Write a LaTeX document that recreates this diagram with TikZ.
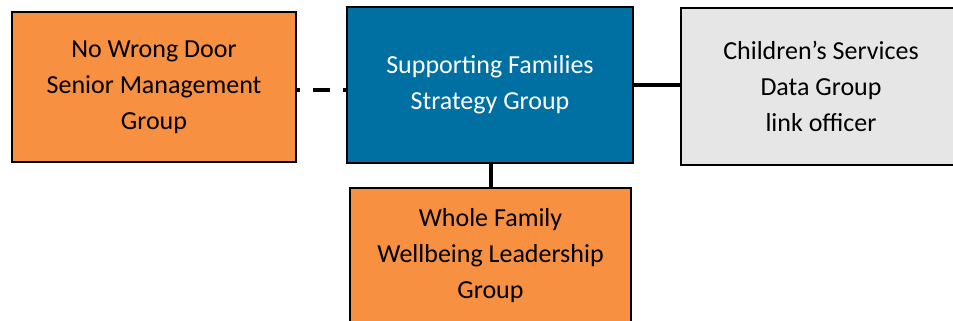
\documentclass[tikz,border=0pt]{standalone}
\usepackage{fontspec}
\setmainfont{Carlito}
\usepackage{tikz}

\definecolor{sforange}{RGB}{247,145,65}
\definecolor{sfblue}{RGB}{0,112,163}
\definecolor{sfgrey}{RGB}{230,230,230}

\tikzset{
  groupbox/.style={draw=black, line width=1.75pt, align=center, inner sep=0pt,
    font=\fontsize{19.5}{27}\selectfont},
  link/.style={line width=2.8pt, black}
}

\begin{document}
\begin{tikzpicture}[x=0.75pt,y=0.75pt,yscale=-1,xscale=1]
        \useasboundingbox (0,0) rectangle (953,321);
        \clip (0,0) rectangle (953,321);

        % Boxes
        \node (nwd) [groupbox, fill=sforange, minimum width=213pt, minimum height=112.5pt] at (154,87) {No Wrong Door\\Senior Management\\Group};
        \node (sfsg) [groupbox, fill=sfblue, text=white, minimum width=214.5pt, minimum height=117pt] at (490,85) {Supporting Families\\Strategy Group};
        \node (csdg) [groupbox, fill=sfgrey, minimum width=217.5pt, minimum height=117.75pt, text width=0pt] at (826,86.5) {};
        \node (csdgtext) [align=center, font=\fontsize{19.5}{27}\selectfont] at (821,86) {Children’s Services\\Data Group\\link officer};
        \node (wfwl) [groupbox, fill=sforange, minimum width=210.75pt, minimum height=102pt] at (490.5,256) {Whole Family\\Wellbeing Leadership\\Group};

        % Links
        \draw [link, dash pattern=on 12.75pt off 9.75pt, dash phase=10.5pt] (nwd.east |- 0,90) -- (sfsg.west |- 0,90);
        \draw [link] (sfsg.east |- 0,85) -- (csdg.west |- 0,85);
        \draw [link] (sfsg.south -| 491,0) -- (wfwl.north -| 491,0);
\end{tikzpicture}
\end{document}
